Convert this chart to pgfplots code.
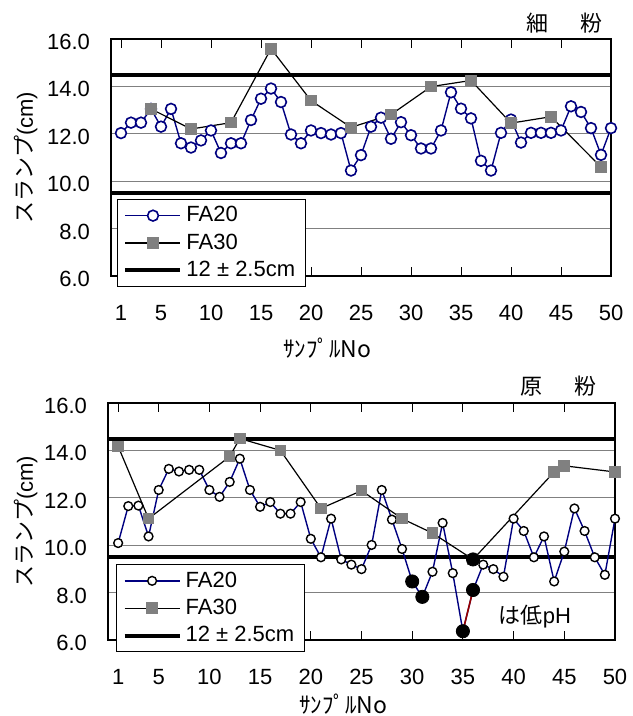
\documentclass[border=0pt]{standalone}
\usepackage{fontspec}
\setmainfont{Liberation Sans}
\newfontfamily\jp{Noto Sans CJK JP}
\usepackage{pgfplots}
\usepackage{pgfplotstable}
\pgfplotsset{compat=1.18}
\definecolor{navy}{RGB}{0,0,128}
\definecolor{sqgray}{RGB}{128,128,128}
\definecolor{gridgray}{RGB}{128,128,128}
\definecolor{dred}{RGB}{150,0,0}

\pgfplotstableread{
x y
1 12.03
2 12.47
3 12.47
4 13.05
5 12.30
6 13.05
7 11.60
8 11.42
9 11.72
10 12.14
11 11.19
12 11.60
13 11.60
14 12.58
15 13.48
16 13.91
17 13.34
18 11.97
19 11.60
20 12.14
21 12.03
22 11.97
23 12.03
24 10.45
25 11.10
26 12.30
27 12.68
28 11.79
29 12.49
30 11.94
31 11.38
32 11.38
33 12.14
34 13.75
35 13.06
36 12.65
37 10.86
38 10.45
39 12.04
40 12.60
41 11.63
42 12.04
43 12.04
44 12.04
45 12.14
46 13.16
47 12.92
48 12.24
49 11.11
50 12.24
}\topfatwenty

\pgfplotstableread{
x y
4 13.05
8 12.20
12 12.47
16 15.59
20 13.40
24 12.27
28 12.81
32 13.99
36 14.25
40 12.45
44 12.72
49 10.60
}\topfathirty

\pgfplotstableread{
x y
1 10.09
2 11.65
3 11.67
4 10.37
5 12.33
6 13.22
7 13.11
8 13.18
9 13.18
10 12.33
11 12.04
12 12.67
13 13.65
14 12.33
15 11.62
16 11.82
17 11.33
18 11.33
19 11.82
20 10.27
21 9.49
22 11.12
23 9.40
24 9.18
25 8.99
26 10.01
27 12.33
28 11.08
29 9.84
30 8.47
31 7.82
32 8.88
33 10.94
34 8.82
35 6.37
36 8.11
37 9.18
38 8.99
39 8.67
40 11.12
41 10.60
42 9.49
43 10.37
44 8.47
45 9.73
46 11.55
47 10.60
48 9.49
49 8.75
50 11.12
}\botfatwenty

\pgfplotstableread{
x y
1 14.17
4 11.12
12 13.74
13 14.50
17 14.00
21 11.55
25 12.30
29 11.12
32 10.51
36 9.40
44 13.09
45 13.35
50 13.09
}\botfathirty

\pgfplotstableread{
x y
30 8.47
31 7.82
35 6.37
36 8.11
36 9.40
}\lowph

\pgfplotsset{
  slump/.style={
    scale only axis, height=118.5pt,
    xmin=0, xmax=50, ymin=6, ymax=16,
    clip=false,
    xtick={1,5,10,15,20,25,30,35,40,45,50},
    ytick={6,8,10,12,14,16},
    ymajorgrids,
    major grid style={gridgray, line width=0.5pt},
    axis line style={line width=0.8pt},
    tick align=inside,
    major tick length=4.5pt,
    xtick style={black, line width=0.5pt},
    ytick style={draw=none},
    /pgf/number format/assume math mode=true,
    ticklabel style={font=\fontsize{11}{13}\selectfont},
    y tick label style={/pgf/number format/fixed, /pgf/number format/fixed zerofill, /pgf/number format/precision=1, xshift=-7pt, yshift=-1.5pt},
    x tick label style={yshift=-11pt},
    legend style={anchor=north west, draw=black, line width=0.5pt, fill=white,
      font=\fontsize{11}{13}\selectfont, row sep=0.5pt, inner xsep=3pt, inner ysep=1.5pt},
    legend cell align=left,
    legend image code/.code={
      \draw[mark repeat=2,mark phase=2,#1] plot coordinates {(0pt,0pt) (13.75pt,0pt) (27.5pt,0pt)};
    },
  },
  limitline/.style={black, line width=2pt, no marks, forget plot},
}

\begin{document}
\begin{tikzpicture}
\useasboundingbox (0,0) rectangle (316pt,358pt);

% ---------- top: fine powder ----------
\begin{axis}[slump, width=250pt, at={(55.5pt,220pt)}, anchor=south west,
  legend style={at={(axis description cs:0.012,0.325)}},
  xlabel={\jp ｻﾝﾌﾟﾙNo},
  xlabel style={at={(axis description cs:0.433,0)}, anchor=center, yshift=-36pt, font=\fontsize{11.5}{13}\selectfont},
  ylabel={{\jp スランプ}(cm)},
  ylabel style={at={(axis description cs:0,0.5)}, anchor=center, rotate=0, yshift=42.5pt, font=\fontsize{11}{13}\selectfont},
]
\addplot[limitline] coordinates {(0,14.5) (50,14.5)};
\addplot[limitline] coordinates {(0,9.5) (50,9.5)};
\addplot[navy, line width=0.7pt, mark=*, mark size=2.7pt, mark options={fill=white, draw=navy, line width=0.8pt, solid}] table[x=x,y=y] {\topfatwenty};
\addlegendentry{FA20}
\addplot[black, line width=0.6pt, mark=square*, mark size=2.6pt, mark options={fill=sqgray, draw=sqgray}] table[x=x,y=y] {\topfathirty};
\addlegendentry{FA30}
\addlegendimage{black, line width=2pt}
\addlegendentry{12 ± 2.5cm}
\node[font=\jp\fontsize{11}{13}\selectfont, yshift=8pt] at (axis description cs:0.906,1) {細\hspace{16pt}粉};
\end{axis}

% ---------- bottom: raw powder ----------
\begin{axis}[slump, width=253.5pt, at={(54pt,38pt)}, anchor=south west,
  legend style={at={(axis description cs:0.016,0.32)}},
  xlabel={\jp ｻﾝﾌﾟﾙNo},
  xlabel style={at={(axis description cs:0.464,0)}, anchor=center, yshift=-32pt, font=\fontsize{11.5}{13}\selectfont},
  ylabel={{\jp スランプ}(cm)},
  ylabel style={at={(axis description cs:0,0.5)}, anchor=center, yshift=41pt, font=\fontsize{11}{13}\selectfont},
]
\addplot[limitline] coordinates {(0,14.5) (50,14.5)};
\addplot[limitline] coordinates {(0,9.5) (50,9.5)};
\addplot[navy, line width=0.7pt, mark=*, mark size=2.2pt, mark options={fill=white, draw=black, line width=0.7pt, solid}] table[x=x,y=y] {\botfatwenty};
\addlegendentry{FA20}
\addplot[black, line width=0.6pt, mark=square*, mark size=2.6pt, mark options={fill=sqgray, draw=sqgray}] table[x=x,y=y] {\botfathirty};
\addlegendentry{FA30}
\addplot[dred, line width=0.8pt, no marks, forget plot] coordinates {(35,6.37) (36,8.11)};
\addplot[only marks, mark=*, mark size=3.3pt, mark options={fill=black, draw=black}, forget plot] table[x=x,y=y] {\lowph};
\addlegendimage{black, line width=2pt}
\addlegendentry{12 ± 2.5cm}
\node[font=\jp\fontsize{11}{13}\selectfont, yshift=8.5pt] at (axis description cs:0.888,1) {原\hspace{16pt}粉};
\node[font=\fontsize{11}{13}\selectfont] at (axis description cs:0.842,0.097) {{\jp は低}pH};
\end{axis}
\end{tikzpicture}
\end{document}
